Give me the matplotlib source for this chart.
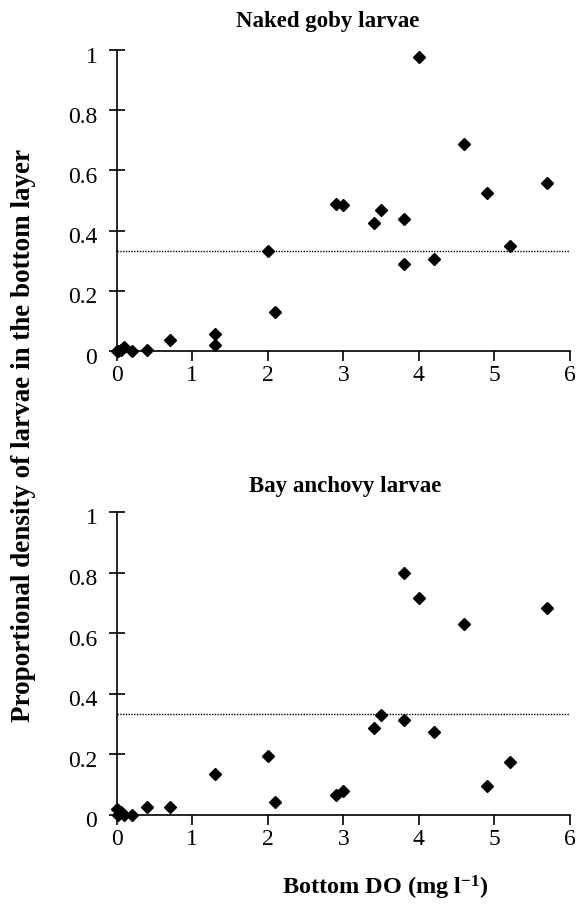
import matplotlib
matplotlib.use("Agg")
import matplotlib.pyplot as plt
from matplotlib.transforms import ScaledTranslation

plt.rcParams['font.family'] = ['Liberation Serif', 'DejaVu Serif']
plt.rcParams['mathtext.fontset'] = 'custom'
plt.rcParams['mathtext.rm'] = 'Liberation Serif:bold'
plt.rcParams['mathtext.bf'] = 'Liberation Serif:bold'
plt.rcParams['mathtext.it'] = 'Liberation Serif:italic:bold'

goby_x = [0.0, 0.02, 0.05, 0.1, 0.2, 0.4, 0.7, 1.3, 1.3, 2.0, 2.1, 2.9, 3.0, 3.4, 3.5, 3.8, 3.8, 4.0, 4.2, 4.6, 4.9, 5.2, 5.7]
goby_y = [0.0, 0.0, 0.005, 0.012, 0.0, 0.005, 0.035, 0.055, 0.02, 0.332, 0.13, 0.488, 0.485, 0.425, 0.468, 0.439, 0.289, 0.977, 0.305, 0.688, 0.525, 0.349, 0.558]
anch_x = [0.0, 0.02, 0.05, 0.1, 0.2, 0.4, 0.7, 1.3, 2.0, 2.1, 2.9, 3.0, 3.4, 3.5, 3.8, 3.8, 4.0, 4.2, 4.6, 4.9, 5.2, 5.7]
anch_y = [0.02, 0.0, 0.01, 0.0, 0.0, 0.025, 0.025, 0.135, 0.195, 0.043, 0.066, 0.079, 0.287, 0.33, 0.80, 0.313, 0.716, 0.274, 0.63, 0.096, 0.175, 0.683]
ref_level = 0.333
xticks = [0, 1, 2, 3, 4, 5, 6]
yticks = [0, 0.2, 0.4, 0.6, 0.8, 1]
yticklabels = ['0', '0.2', '0.4', '0.6', '0.8', '1']

fig = plt.figure(figsize=(5.81, 9.11), dpi=100)
ax1 = fig.add_axes([0.201, 0.6147, 0.78, 0.3304])
ax2 = fig.add_axes([0.201, 0.1054, 0.78, 0.3326])

for ax, xs, ys, title, tx, ty in [(ax1, goby_x, goby_y, 'Naked goby larvae', 0.466, 1.076),
                                  (ax2, anch_x, anch_y, 'Bay anchovy larvae', 0.505, 1.066)]:
    ax.plot(xs, ys, linestyle='none', marker='D', markersize=6.5, color='black', clip_on=False, zorder=3)
    ax.axhline(ref_level, xmin=0, xmax=1, color='black', linestyle=(0, (1, 1)), linewidth=1.0)
    ax.set_xlim(0, 6)
    ax.set_ylim(0, 1)
    ax.spines['top'].set_visible(False)
    ax.spines['right'].set_visible(False)
    ax.spines['left'].set_linewidth(1.2)
    ax.spines['bottom'].set_linewidth(1.2)
    ax.set_xticks(xticks)
    ax.set_xticklabels([str(t) for t in xticks])
    ax.set_yticks(yticks)
    ax.set_yticklabels(yticklabels)
    ax.tick_params(axis='x', direction='out', length=7, width=1.2, labelsize=17, pad=3)
    ax.tick_params(axis='y', direction='inout', length=12, width=1.2, labelsize=17, pad=8)
    shift = ScaledTranslation(0, -4.5 / 100, fig.dpi_scale_trans)
    for lab in ax.get_yticklabels():
        lab.set_transform(lab.get_transform() + shift)
    ax.text(tx, ty, title, transform=ax.transAxes, ha='center', va='baseline',
            fontsize=16.5, fontweight='bold')

fig.text(0.041, 0.5225, 'Proportional density of larvae in the bottom layer', rotation=90,
         ha='center', va='center', fontsize=19.5, fontweight='bold')
fig.text(0.663, 0.0176, 'Bottom DO (mg l$^{-1}$)', ha='center', va='baseline',
         fontsize=17.5, fontweight='bold')

fig.savefig('out.png', dpi=100)
